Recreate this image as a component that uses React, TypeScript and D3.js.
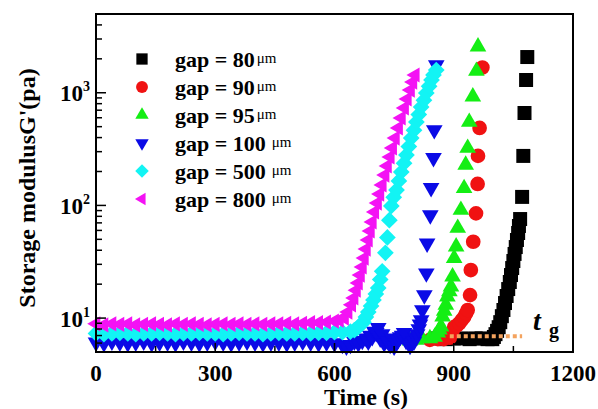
import * as d3 from "d3";

// time (s), G' (Pa)
const gap80: [number, number][] = [
  [860, 6.6], [880, 6.5], [900, 6.6], [920, 6.6], [940, 6.5], [955, 6.6], [970, 6.6], [985, 6.5], [997, 6.5],
  [1001, 6.8], [1005, 7.2], [1009, 7.7], [1013, 8.3], [1017, 9.2], [1021, 10.4], [1025, 11.8],
  [1029, 13.6], [1033, 15.7], [1037, 18.1], [1041, 20.9], [1044, 24.1], [1047, 27.8], [1050, 32.1],
  [1053, 37.1], [1056, 42.7], [1059, 49.3], [1062, 56.9], [1064, 65.7], [1067, 75.7], [1072, 119],
  [1075, 275], [1078, 661], [1082, 1298], [1085, 2075],
];

const gap90: [number, number][] = [
  [840, 6.4], [860, 6.5], [875, 6.5], [890, 6.7], [896, 7.4], [901, 8.3], [908, 8.6], [914, 9.0],
  [920, 9.6], [926, 10.2], [931, 11.0], [935, 11.8], [941, 16.0], [943, 26.7], [949, 47.6], [956, 85],
  [960, 155], [961, 275], [965, 487], [972, 1675],
];

const gap95: [number, number][] = [
  [790, 6.3], [805, 6.4], [820, 6.6], [840, 6.6], [852, 6.8],
  [860, 7.4], [864, 7.9], [868, 8.4], [872, 10.3], [876, 11.6], [880, 13.1], [884, 15.5], [889, 17.2],
  [893, 19.0], [897, 23.3], [901, 34], [906, 43], [910, 63], [918, 91], [926, 142], [930, 229],
  [935, 323], [939, 550], [948, 923], [957, 1560], [961, 2563],
];

const gap100: [number, number][] = [
  [0, 6.1], [20, 6.0], [40, 6.2], [60, 6.1], [80, 6.0], [100, 6.1], [120, 6.2], [140, 6.0],
  [160, 6.1], [180, 6.1], [200, 6.0], [220, 6.2], [240, 6.1], [260, 6.0], [280, 6.1], [300, 6.2],
  [320, 6.1], [340, 6.0], [360, 6.1], [380, 6.2], [400, 6.1], [420, 6.0], [440, 6.1], [460, 6.1],
  [480, 6.0], [500, 6.1], [520, 6.2], [540, 6.1], [560, 6.0], [580, 6.1], [600, 6.0],
  [620, 5.8], [630, 5.6], [640, 5.8], [650, 6.2], [660, 6.0], [670, 6.3], [680, 6.6], [685, 6.2],
  [690, 7.0], [695, 6.8], [700, 7.6], [705, 7.4], [710, 8.2], [715, 6.6], [720, 7.2], [725, 6.0],
  [730, 6.4], [735, 6.2], [740, 5.8], [745, 6.6], [750, 5.6], [755, 6.0], [760, 6.4], [765, 6.8],
  [770, 7.0], [775, 7.4], [780, 6.3], [785, 6.6], [790, 5.7], [795, 6.0], [800, 6.2], [804, 6.8],
  [808, 7.2], [812, 8.0], [815, 8.8],
  [818, 9.6], [821, 11.8], [826, 16.0], [831, 25], [833, 46], [841, 82], [843, 143], [849, 264],
  [851, 467], [856, 1762],
];

const gap500: [number, number][] = [
  [0, 7.3], [20, 7.2], [40, 7.3], [60, 7.4], [80, 7.3], [100, 7.2], [120, 7.3], [140, 7.3],
  [160, 7.4], [180, 7.3], [200, 7.2], [220, 7.3], [240, 7.3], [260, 7.4], [280, 7.3], [300, 7.3],
  [320, 7.2], [340, 7.3], [360, 7.4], [380, 7.3], [400, 7.3], [420, 7.2], [440, 7.3], [460, 7.4],
  [480, 7.3], [500, 7.3], [520, 7.4], [540, 7.3], [560, 7.4], [580, 7.4], [600, 7.5], [620, 7.5],
  [640, 7.6], [650, 7.8], [658, 8.2], [665, 8.7], [673, 9.2], [679, 10.2], [685, 11.3], [692, 12.8],
  [698, 14.5], [704, 16.4], [710, 18.5], [715, 22], [720, 26], [728, 38], [733, 52], [738, 74],
  [743, 99], [749, 118], [756, 137], [762, 165], [768, 198], [775, 237], [781, 280], [787, 333],
  [793, 396], [800, 465], [806, 550], [812, 640], [818, 747], [825, 860], [831, 995], [838, 1140],
  [844, 1297], [849, 1440], [856, 1592],
];

const gap800: [number, number][] = [
  [0, 8.9], [20, 8.7], [40, 8.9], [60, 8.8], [80, 8.9], [100, 8.7], [120, 8.8], [140, 8.9],
  [160, 8.8], [180, 8.7], [200, 8.9], [220, 8.8], [240, 8.9], [260, 8.8], [280, 8.7], [300, 8.8],
  [320, 8.9], [340, 8.8], [360, 8.9], [380, 8.8], [400, 8.9], [420, 8.8], [440, 8.9], [460, 8.9],
  [480, 9.0], [500, 8.9], [520, 9.0], [540, 9.1], [560, 9.1], [580, 9.2], [600, 9.4], [612, 9.6],
  [625, 10.0], [634, 11.3], [643, 13.1], [649, 15.1], [655, 17.7], [660, 20.5], [665, 24.1],
  [670, 28.4], [675, 34.1], [680, 41.0], [685, 49.3], [690, 59.3], [695, 71.3], [701, 87.5],
  [708, 105], [714, 126], [720, 152], [727, 186], [733, 224], [740, 269], [746, 324], [753, 396],
  [761, 487], [768, 597], [776, 733], [783, 880], [791, 1057], [797, 1245], [803, 1438],
];

const gapLabels = ["80", "90", "95", "100", "500", "800"];
const colors = ["#000000", "#f01212", "#14ee14", "#0a0ae6", "#12f4f4", "#f412f4"];

const xTicks = [0, 300, 600, 900, 1200];
const xMinorTicks = [150, 450, 750, 1050];
const yExponents = ["1", "2", "3"];

// gel time marker
const tgLine = { t0: 890, t1: 1072, g: 6.9 };

const W = 598;
const H = 409;
const font = "'Liberation Serif', 'Times New Roman', serif";

type Shape = "square" | "circle" | "triUp" | "triDown" | "diamond" | "triLeft";
const shapes: Shape[] = ["square", "circle", "triUp", "triDown", "diamond", "triLeft"];

function marker(shape: Shape, k: number) {
  if (shape === "square") return { d: d3.symbol(d3.symbolSquare, 196 * k)(), rot: 0 };
  if (shape === "circle") return { d: d3.symbol(d3.symbolCircle, 170 * k)(), rot: 0 };
  if (shape === "triUp") return { d: d3.symbol(d3.symbolTriangle, 120 * k)(), rot: 0 };
  if (shape === "triDown") return { d: d3.symbol(d3.symbolTriangle, 120 * k)(), rot: 180 };
  if (shape === "diamond") return { d: d3.symbol(d3.symbolSquare, 140 * k)(), rot: 45 };
  return { d: d3.symbol(d3.symbolTriangle, 100 * k)(), rot: -90 };
}

export default function App() {
  const x = d3.scaleLinear().domain([0, 1200]).range([96, 573]);
  const y = d3.scaleLog().domain([5, 5000]).range([352, 14]);
  const [x0, x1] = x.range();
  const [y0, y1] = y.range();

  const series = [gap80, gap90, gap95, gap100, gap500, gap800];
  const yAll = y.ticks();
  const yMajor = yAll.filter((v) => Math.abs(Math.log10(v) - Math.round(Math.log10(v))) < 1e-6);
  const yMinor = yAll.filter((v) => !yMajor.includes(v));

  const legendX = 142;
  const legendY = 59;
  const legendStep = 28;

  return (
    <svg width={W} height={H} style={{ position: "absolute", left: 0, top: 0, background: "#fff" }} fontFamily={font}>
      {/* data */}
      {series.map((s, i) => {
        const m = marker(shapes[i], 1);
        return (
          <g key={i} fill={colors[i]}>
            {s.map(([t, v], j) => (
              <path key={j} d={m.d || ""} transform={`translate(${x(t)},${y(v)}) rotate(${m.rot})`} />
            ))}
          </g>
        );
      })}

      {/* t_g dotted line */}
      <line x1={x(tgLine.t0)} x2={x(tgLine.t1)} y1={y(tgLine.g)} y2={y(tgLine.g)}
        stroke="#f4a35e" strokeWidth={4} strokeDasharray="4 3" />
      <text x={533} y={330} fontSize={28} fontWeight="bold" fontStyle="italic">t</text>
      <text x={549} y={337} fontSize={20} fontWeight="bold">g</text>

      {/* frame */}
      <rect x={x0} y={y1} width={x1 - x0} height={y0 - y1} fill="none" stroke="#000" strokeWidth={2} />

      {/* ticks */}
      <g stroke="#000" strokeWidth={1.5}>
        {yMajor.map((v) => <line key={"M" + v} x1={x0} x2={x0 + 10} y1={y(v)} y2={y(v)} />)}
        {yMinor.map((v) => <line key={"m" + v} x1={x0} x2={x0 + 6} y1={y(v)} y2={y(v)} />)}
        {xTicks.map((t) => <line key={"X" + t} x1={x(t)} x2={x(t)} y1={y0} y2={y0 - 9} />)}
        {xMinorTicks.map((t) => <line key={"x" + t} x1={x(t)} x2={x(t)} y1={y0} y2={y0 - 6} />)}
      </g>

      {yMajor.map((v, i) => (
        <text key={"yl" + v} x={90} y={y(v) + 8.5} textAnchor="end" fontSize={23} fontWeight="bold">
          10<tspan fontSize={14} dy={-10}>{yExponents[i]}</tspan>
        </text>
      ))}
      {xTicks.map((t) => (
        <text key={"xl" + t} x={x(t)} y={381} textAnchor="middle" fontSize={23} fontWeight="bold">{t}</text>
      ))}

      <text x={366} y={405} textAnchor="middle" fontSize={24} fontWeight="bold">Time (s)</text>
      <text transform="translate(35,188) rotate(-90)" textAnchor="middle" fontSize={24} fontWeight="bold">
        Storage modulusG'(pa)
      </text>

      {/* legend */}
      {gapLabels.map((g, i) => {
        const m = marker(shapes[i], 0.65);
        const ly = legendY + i * legendStep;
        return (
          <g key={"lg" + g}>
            <path d={m.d || ""} fill={colors[i]} transform={`translate(${legendX},${ly}) rotate(${m.rot})`} />
            <text x={175} y={ly + 8} fontSize={22} fontWeight="bold">
              gap = {g}
              <tspan fontSize={15} fontWeight="normal" dx={g.length > 2 ? 6 : 2} dy={-4}>μm</tspan>
            </text>
          </g>
        );
      })}
    </svg>
  );
}
